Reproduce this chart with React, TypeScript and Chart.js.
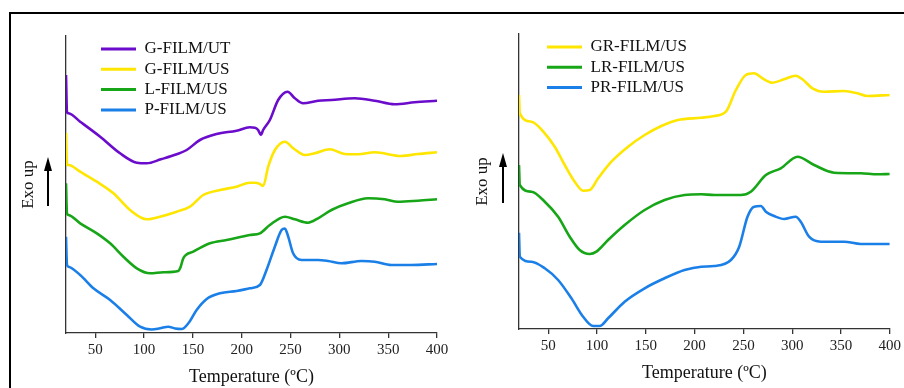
import React, { useEffect, useRef } from "react";
import { Chart, registerables } from "chart.js";

Chart.register(...registerables);

const FONT = "'Liberation Serif', 'Times New Roman', serif";
const X_TITLE = "Temperature (ºC)";
const Y_TITLE = "Exo up";
const X_TICKS = [50, 100, 150, 200, 250, 300, 350, 400];

// ---- Left panel ----
const LEFT_LABELS = ["G-FILM/UT", "G-FILM/US", "L-FILM/US", "P-FILM/US"];

const G_UT_T = [20, 21, 22.6, 34.5, 55, 75.4, 92.5, 102.7, 117.2, 133.4, 143.6, 157.2, 174.3, 194.7, 208.3, 213.5, 216.8, 219.6, 221.9, 228.8, 237.3, 246.9, 254.4, 262.8, 278.2, 291.9, 315.7, 336.2, 356.6, 377, 400];
const G_UT_H = [258, 221, 219.7, 211.3, 196.3, 179.7, 170.3, 169.7, 173.7, 178.7, 183, 193, 199, 202.3, 205.7, 205.3, 203, 198, 203, 213, 233, 241.3, 234.7, 229.7, 232.3, 233, 234.7, 232.3, 228.7, 230.7, 232.3];

const G_US_T = [20, 21, 22.6, 34.5, 51.6, 68.6, 85.6, 102.7, 116.3, 133.4, 147, 160.6, 177.7, 194.7, 208.3, 213.5, 218.6, 222, 227.1, 234, 244.2, 252.8, 264.6, 274.8, 290.1, 305.5, 319.1, 336.2, 363.4, 380.4, 400];
const G_US_H = [200.3, 168, 168, 161.3, 151.3, 139.7, 123, 113.7, 116.3, 121.3, 126.3, 138, 143, 146.3, 150.3, 150.3, 149, 147, 166.3, 183, 191.3, 184.7, 178, 179.7, 183.7, 179, 178.7, 180.7, 177, 179, 180.7];

const L_US_T = [20, 21, 22.6, 34.5, 51.6, 65.2, 78.8, 92.5, 106.1, 119.7, 135, 137.5, 140.1, 150.4, 167.4, 184.5, 208.3, 218.6, 228.8, 244.2, 254.4, 268, 278.2, 291.9, 308.9, 329.3, 346.4, 360, 380.4, 400];
const L_US_H = [149.7, 119.7, 118, 109.7, 99.7, 89.7, 76.3, 64.7, 59.7, 60.7, 62, 66.3, 74.7, 81.3, 89.7, 93, 98, 99.7, 108, 116.3, 113.7, 110.3, 114.7, 123, 129.7, 134.7, 133.7, 131.3, 132.3, 133.7];

const P_US_T = [20, 21, 22.6, 34.5, 48.1, 65.2, 82.3, 95.9, 107.8, 116.3, 124.8, 131.7, 138.5, 145.3, 153.8, 164.1, 177.7, 194.7, 208.3, 218.6, 225.4, 233.9, 240.8, 244.2, 247.6, 252.6, 261.2, 278.2, 288.4, 302.1, 322.6, 336.2, 353.2, 373.6, 400];
const P_US_H = [96.3, 68, 66.3, 58, 44.7, 33, 18, 6.3, 3.5, 4.7, 6.3, 4.5, 4, 9.7, 23, 34, 39.7, 42, 44.7, 48, 63, 86.3, 103, 104.5, 96.3, 79.7, 73, 73, 72, 69.7, 72, 71.3, 68, 68, 69];

// ---- Right panel ----
const RIGHT_LABELS = ["GR-FILM/US", "LR-FILM/US", "PR-FILM/US"];

const GR_US_T = [20, 20.8, 32.8, 46.4, 56.6, 66.9, 77.1, 85.7, 92.5, 101.1, 114.7, 131.8, 148.8, 165.9, 182.9, 206.8, 220.1, 232.1, 242.3, 252.5, 261, 269.5, 279.8, 291.7, 303.7, 310.5, 320.7, 332.7, 353.2, 366.8, 377, 400];
const GR_US_H = [234, 215.7, 207.3, 195.7, 182.3, 164, 147.3, 138.3, 139, 150.7, 167.3, 182.3, 194, 203, 209, 211.3, 213, 217.3, 239, 254, 255.7, 250.7, 246.3, 249.7, 253.3, 249.7, 240.7, 237.3, 238, 235.7, 233, 234];

const LR_US_T = [20, 20.8, 32.8, 46.4, 60.1, 72, 82.2, 92.5, 99.3, 111.3, 128.3, 148.8, 169.2, 189.7, 206.8, 220.1, 247.4, 257.6, 273, 288.3, 305.4, 322.5, 342.9, 370.3, 387.2, 400];
const LR_US_H = [164, 144, 137.3, 127.3, 112.3, 92.3, 79, 75, 77.3, 89, 104, 119, 129, 134, 134.7, 134, 134, 137.3, 154, 160.7, 172.3, 164, 156.3, 155.7, 154.7, 155];

const PR_US_T = [20, 20.8, 32.8, 46.4, 60.1, 73.7, 85.7, 95.9, 102.7, 111.3, 128.3, 148.8, 169.2, 189.7, 206.8, 220.1, 237.2, 245.7, 254.2, 261, 267.9, 273, 281.5, 291.7, 303.7, 308.8, 317.3, 329.3, 353.2, 370.3, 400];
const PR_US_H = [96.3, 72.3, 67.3, 60.7, 49, 30.7, 12.3, 3, 3, 10.7, 27.3, 40.7, 50.7, 59, 62.3, 63, 69, 82.3, 112.3, 122.3, 123, 117.3, 113, 110, 112.3, 107.3, 92.3, 87.3, 87.3, 85, 85];

const PURPLE = "#6b0bcb";
const YELLOW = "#ffe600";
const GREEN = "#17a617";
const BLUE = "#1b7fe8";

type Series = { label: string; color: string; temps: number[]; heat: number[] };

type PanelSpec = {
  left: number;
  width: number;
  height: number;
  padTop: number;
  padRight: number;
  xAxisHeight: number;
  yAxisWidth: number;
  yMax: number;
  yTitlePad: number;
  arrowX: number;
  arrowTip: number;
  arrowBase: number;
  legendX: number;
  legendY: number;
  series: Series[];
};

const LEFT_SERIES: Series[] = [
  { label: LEFT_LABELS[0], color: PURPLE, temps: G_UT_T, heat: G_UT_H },
  { label: LEFT_LABELS[1], color: YELLOW, temps: G_US_T, heat: G_US_H },
  { label: LEFT_LABELS[2], color: GREEN, temps: L_US_T, heat: L_US_H },
  { label: LEFT_LABELS[3], color: BLUE, temps: P_US_T, heat: P_US_H },
];

const RIGHT_SERIES: Series[] = [
  { label: RIGHT_LABELS[0], color: YELLOW, temps: GR_US_T, heat: GR_US_H },
  { label: RIGHT_LABELS[1], color: GREEN, temps: LR_US_T, heat: LR_US_H },
  { label: RIGHT_LABELS[2], color: BLUE, temps: PR_US_T, heat: PR_US_H },
];

const LEGEND_PAD = 3.3;
const LEGEND_FONT = 17;

const LEFT_PANEL: PanelSpec = {
  left: 0, width: 455, height: 388, padTop: 36, padRight: 18, xAxisHeight: 55, yAxisWidth: 66,
  yMax: 297, yTitlePad: 18.8, arrowX: 48, arrowTip: 157, arrowBase: 206,
  legendX: 101, legendY: 49, series: LEFT_SERIES,
};

const RIGHT_PANEL: PanelSpec = {
  left: 453, width: 451, height: 384, padTop: 34, padRight: 14, xAxisHeight: 55, yAxisWidth: 66,
  yMax: 295, yTitlePad: 19.8, arrowX: 50, arrowTip: 153, arrowBase: 203,
  legendX: 94, legendY: 47, series: RIGHT_SERIES,
};

function buildChart(canvas: HTMLCanvasElement, p: PanelSpec) {
  const datasets = p.series.map((s) => ({
    label: s.label,
    data: s.temps.map((t, i) => ({ x: t, y: s.heat[i] })),
    borderColor: s.color,
    backgroundColor: s.color,
    borderWidth: 2.6,
    pointRadius: 0,
    pointHoverRadius: 0,
    cubicInterpolationMode: "monotone" as const,
    fill: false,
  }));

  const arrowPlugin = {
    id: "exoArrow",
    afterDraw(chart: any) {
      const ctx = chart.ctx;
      ctx.save();
      ctx.strokeStyle = "#000";
      ctx.fillStyle = "#000";
      ctx.lineWidth = 2;
      ctx.beginPath();
      ctx.moveTo(p.arrowX, p.arrowBase);
      ctx.lineTo(p.arrowX, p.arrowTip + 12);
      ctx.stroke();
      ctx.beginPath();
      ctx.moveTo(p.arrowX, p.arrowTip);
      ctx.lineTo(p.arrowX - 4, p.arrowTip + 14);
      ctx.lineTo(p.arrowX + 4, p.arrowTip + 14);
      ctx.closePath();
      ctx.fill();
      ctx.restore();
    },
  };

  const legendShift = {
    id: "legendShift",
    afterLayout(chart: any) {
      const lg = chart.legend;
      if (!lg) return;
      lg.left = p.legendX - LEGEND_PAD;
      lg.top = p.legendY - LEGEND_FONT / 2 - LEGEND_PAD;
    },
  };

  return new Chart(canvas, {
    type: "line",
    data: { datasets },
    options: {
      animation: false,
      responsive: false,
      devicePixelRatio: 1,
      events: [],
      layout: { padding: { top: p.padTop, left: 0, right: p.padRight, bottom: 0 } },
      plugins: {
        legend: {
          display: true,
          position: "chartArea",
          align: "start",
          labels: {
            font: { family: FONT, size: LEGEND_FONT },
            color: "#111",
            boxWidth: 35,
            boxHeight: 3,
            padding: LEGEND_PAD,
            generateLabels: (chart: any) =>
              chart.data.datasets.map((d: any, i: number) => ({
                text: d.label,
                fillStyle: d.borderColor,
                strokeStyle: d.borderColor,
                lineWidth: 0,
                hidden: false,
                datasetIndex: i,
                fontColor: "#111",
              })),
          },
        },
        tooltip: { enabled: false },
        title: { display: false },
      },
      scales: {
        x: {
          type: "linear",
          min: 20,
          max: 400,
          afterBuildTicks: (s: any) => {
            s.ticks = X_TICKS.map((v) => ({ value: v }));
          },
          afterFit: (s: any) => {
            s.height = p.xAxisHeight;
          },
          ticks: {
            font: { family: FONT, size: 15 },
            color: "#222",
            padding: 3,
            maxRotation: 0,
            autoSkip: false,
          },
          grid: {
            display: true,
            drawOnChartArea: false,
            drawTicks: true,
            tickLength: 5,
            color: "#333",
            lineWidth: 1.3,
          },
          border: { display: true, color: "#333", width: 1.3 },
          title: {
            display: true,
            text: X_TITLE,
            font: { family: FONT, size: 18 },
            color: "#111",
            padding: 0,
          },
        },
        y: {
          type: "linear",
          min: 0,
          max: p.yMax,
          afterFit: (s: any) => {
            s.width = p.yAxisWidth;
          },
          ticks: { display: false },
          grid: { display: false },
          border: { display: true, color: "#333", width: 1.3 },
          title: {
            display: true,
            text: Y_TITLE,
            font: { family: FONT, size: 17 },
            color: "#111",
            padding: { top: p.yTitlePad, bottom: 0 },
          },
        },
      },
    } as any,
    plugins: [arrowPlugin, legendShift],
  });
}

function Panel({ spec }: { spec: PanelSpec }) {
  const ref = useRef<HTMLCanvasElement | null>(null);
  useEffect(() => {
    if (!ref.current) return;
    const chart = buildChart(ref.current, spec);
    return () => chart.destroy();
  }, [spec]);
  return (
    <canvas
      ref={ref}
      width={spec.width}
      height={spec.height}
      style={{
        position: "absolute",
        left: spec.left,
        top: 0,
        width: spec.width,
        height: spec.height,
      }}
    />
  );
}

export default function App() {
  return (
    <div
      style={{
        position: "fixed",
        left: 0,
        top: 0,
        width: 904,
        height: 388,
        overflow: "hidden",
        background: "#fff",
      }}
    >
      <div
        style={{
          position: "absolute",
          left: 9,
          top: 12,
          width: 1000,
          height: 1000,
          border: "2px solid #000",
          boxSizing: "border-box",
        }}
      />
      <Panel spec={LEFT_PANEL} />
      <Panel spec={RIGHT_PANEL} />
    </div>
  );
}
